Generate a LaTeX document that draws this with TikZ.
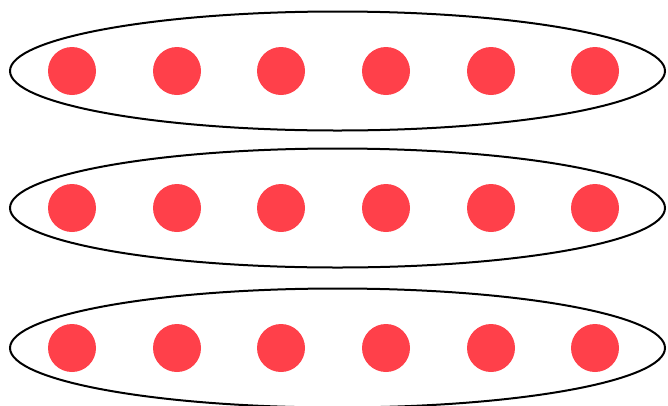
\documentclass[tikz,border=0pt]{standalone}
\definecolor{dotred}{RGB}{255,64,74}
\begin{document}
\begin{tikzpicture}[x=1pt,y=-1pt,
  ring/.style={draw=black,line width=2pt,fill=none},
  dot/.style={circle,fill=dotred,minimum size=48pt,inner sep=0pt,draw=none}]
\useasboundingbox (0,0) rectangle (668,405);
\foreach \r/\cy in {1/71,2/208,3/348}{
  \draw[ring] (337.5,\cy) ellipse [x radius=327.5, y radius=59.5];
  \foreach \i/\cx in {1/72,2/177,3/281,4/386,5/491,6/595}{
    \node[dot] (d\r\i) at (\cx,\cy) {};
  }
}
\end{tikzpicture}
\end{document}
